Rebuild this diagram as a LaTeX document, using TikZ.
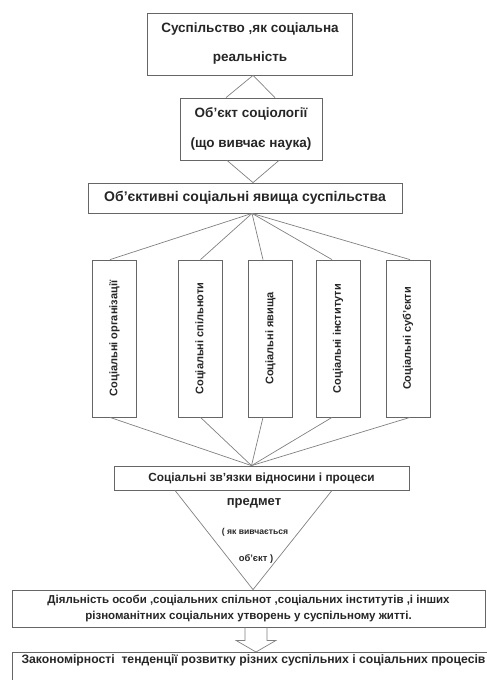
\documentclass[tikz,border=0pt]{standalone}
\usepackage{fontspec}
\setmainfont{Liberation Sans}
\usetikzlibrary{calc}
\begin{document}
\begin{tikzpicture}[x=1pt,y=-1pt,
  box/.style={draw=black!60,line width=0.8pt,inner sep=0pt,align=center,text=black!85},
  tallbox/.style={draw=black!60,line width=0.8pt,minimum width=44pt,minimum height=157pt,inner sep=0pt,text=black!85,
    font=\bfseries\fontsize{11}{12}\selectfont},
  link/.style={draw=black!50,line width=0.7pt},
  tritext/.style={inner sep=0pt,text=black!85}]
  \useasboundingbox (0,0) rectangle (487,680);
  \node[box,minimum width=205pt,minimum height=62pt,font=\bfseries\fontsize{13.5}{29}\selectfont] (society) at (250,44) {Суспільство ,як соціальна\\реальність};
  \node[box,minimum width=142pt,minimum height=62pt,font=\bfseries\fontsize{13.5}{30}\selectfont] (object) at (251,129) {Об'єкт соціології\\(що вивчає наука)};
  \node[box,minimum width=314pt,minimum height=30pt,font=\bfseries\fontsize{14}{16}\selectfont] (phenomena) at (245,198) {Об'єктивні соціальні явища суспільства};
  \node[tallbox] (orgs) at (114.5,338.5) {\rotatebox{90}{Соціальні організації}};
  \node[tallbox] (groups) at (200.5,338.5) {\rotatebox{90}{Соціальні спільноти}};
  \node[tallbox] (events) at (270.5,338.5) {\rotatebox{90}{Соціальні явища}};
  \node[tallbox] (insts) at (338,338.5) {\rotatebox{90}{Соціальні інститути}};
  \node[tallbox] (subjects) at (408,338.5) {\rotatebox{90}{Соціальні суб'єкти}};
  \node[box,minimum width=295pt,minimum height=24pt,font=\bfseries\fontsize{11.8}{14}\selectfont] (relations) at (261.5,478) {Соціальні зв'язки відносини і процеси};
  \node[tritext,font=\bfseries\fontsize{13}{15}\selectfont] (subject) at (254,503) {предмет};
  \node[tritext,font=\bfseries\fontsize{8.6}{10}\selectfont] (asstudied) at (255,532) {( як вивчається};
  \node[tritext,font=\bfseries\fontsize{9.4}{11}\selectfont] (asobject) at (256,559) {об'єкт )};
  \node[box,minimum width=473pt,minimum height=37pt,font=\bfseries\fontsize{11.5}{15.5}\selectfont] (activity) at (248.5,608.5) {Діяльність особи ,соціальних спільнот ,соціальних інститутів ,і інших\\різноманітних соціальних утворень у суспільному житті.};
  \node[box,anchor=north,minimum width=483pt,inner ysep=2.5pt,text depth=25pt,font=\bfseries\fontsize{12.2}{14}\selectfont] (laws) at (253.5,652) {Закономірності \ тенденції розвитку різних суспільних і соціальних процесів};
  \draw[link] ($(object.north)+(-25,0)$) -- ($(society.south)+(3,0)$) -- ($(object.north)+(24,0)$);
  \draw[link] ($(object.south)+(-24,0)$) -- ($(phenomena.north)+(8,0)$) -- ($(object.south)+(28,0)$);
  \foreach \n/\dx in {orgs/-4.5,groups/0,events/-7.5,insts/-6,subjects/2}{
    \draw[link] ($(phenomena.south)+(7,0)$) -- ($(\n.north)+(\dx,0)$);
    \draw[link] ($(\n.south)+(\dx,0)$) -- ($(relations.north)+(-10,0)$);
  }
  \draw[link] ($(relations.south)+(-86.5,0)$) -- ($(activity.north)+(4.5,0)$) -- ($(relations.south)+(70.5,0)$);
  \coordinate (arrowtop) at ($(activity.south)+(7.5,0)$);
  \draw[link] ($(arrowtop)+(-11,0)$) -- ++(0,13) -- ++(-9,0) -- ($(laws.north)+(2.5,0)$) -- ($(arrowtop)+(20,13)$) -- ++(-9,0) -- ++(0,-13);
\end{tikzpicture}
\end{document}
